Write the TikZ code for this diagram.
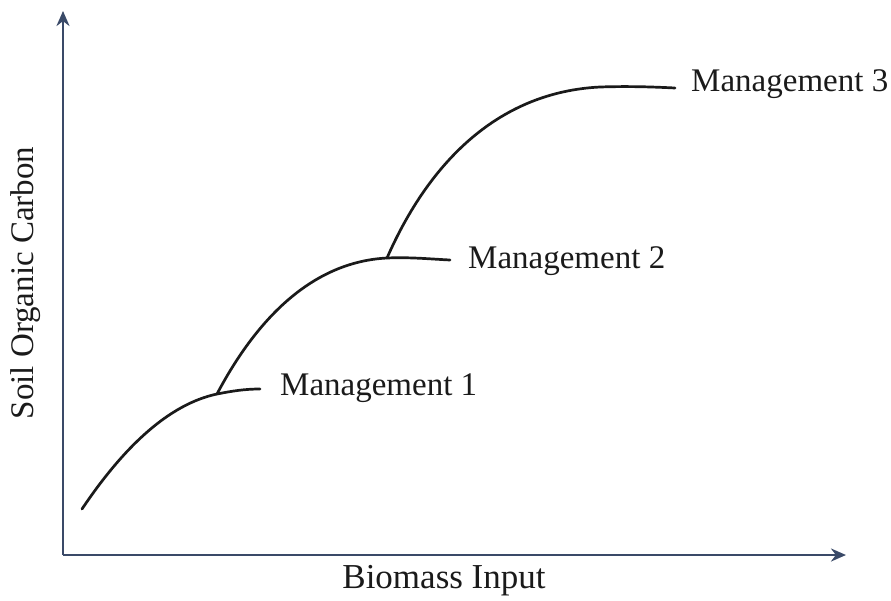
\documentclass[tikz,border=0pt]{standalone}
\usepackage{fontspec}
\setmainfont{Liberation Serif}
\usetikzlibrary{arrows.meta}
\definecolor{axiscol}{HTML}{3A4A68}
\definecolor{curvecol}{HTML}{1A1A1A}
\begin{document}
\begin{tikzpicture}[x=1pt,y=-1pt,
  axis/.style={draw=axiscol,line width=2.8pt,-{Stealth[length=15pt,width=13pt]}},
  curve/.style={draw=curvecol,line width=2.7pt,line cap=round},
  lbl/.style={font=\fontsize{33}{38}\selectfont,inner sep=0pt,text=curvecol}]
\useasboundingbox (0,0) rectangle (891,600);
\coordinate (origin) at (63,555);
\coordinate (ytop) at (63,11);
\coordinate (xend) at (846,555);
\draw[axis] (origin) -- (ytop);
\draw[axis] (origin) -- (xend);
% curves
\coordinate (c1s) at (82,509);
\coordinate (c1b) at (217,394);
\coordinate (c1e) at (260,389);
\coordinate (c2b) at (387,258);
\coordinate (c2e) at (450,260);
\coordinate (c3e) at (675,88);
\draw[curve] (c1s) .. controls (125,445) and (170,404) .. (c1b) .. controls (232,391) and (245,389) .. (c1e);
\draw[curve] (c1b) .. controls (255,322) and (310,262) .. (c2b) .. controls (410,257) and (430,259) .. (c2e);
\draw[curve] (c2b) .. controls (430,160) and (500,92) .. (600,87) .. controls (630,86) and (655,87) .. (c3e);
\node[lbl,anchor=west] (m1) at (280,388) {Management 1};
\node[lbl,anchor=west] (m2) at (468,261) {Management 2};
\node[lbl,anchor=west] (m3) at (691,84) {Management 3};
\node[lbl,font=\fontsize{35}{40}\selectfont] (xl) at (444,581) {Biomass Input};
\node[lbl,rotate=90] (yl) at (26,283) {Soil Organic Carbon};
\end{tikzpicture}
\end{document}
